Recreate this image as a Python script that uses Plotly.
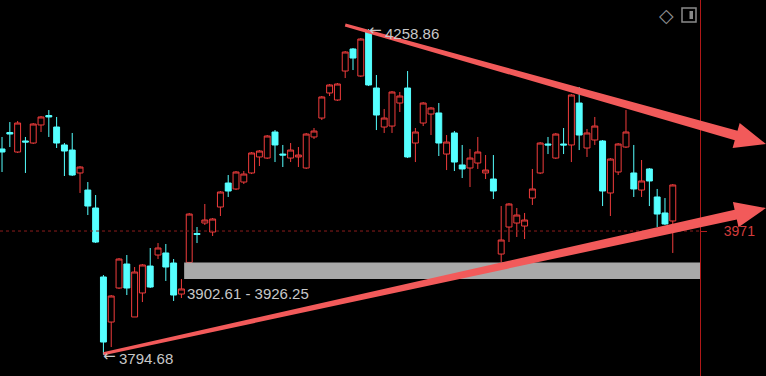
import math
import plotly.graph_objects as go

# ---- data ----
opens = [
    4087.9, 4111.4, 4083.6, 4099.3, 4096.4, 4122.1, 4135.6, 4119.2, 4093.6, 4086.4,
    4053.7, 4029.4, 4003.8, 3905.5, 3841.3, 3889.8, 3924.0, 3848.5, 3882.7, 3921.1,
    3936.8, 3939.7, 3925.4, 3881.2, 3926.25, 3967.5, 3982.4, 3969.6, 4005.2, 4039.4,
    4030.9, 4040.8, 4053.7, 4076.5, 4075.0, 4112.1, 4080.7, 4075.0, 4076.5, 4060.8,
    4105.0, 4132.0, 4167.7, 4157.7, 4199.0, 4230.4, 4191.9, 4254.6, 4174.8, 4119.2,
    4120.6, 4153.4, 4174.8, 4096.4, 4124.9, 4137.7, 4139.2, 4080.7, 4110.7, 4065.1,
    4060.8, 4067.9, 4053.7, 4045.1, 3938.2, 3976.7, 3982.4, 3978.1, 4018.0, 4053.7,
    4095.0, 4075.0, 4095.0, 4093.6, 4153.4, 4089.3, 4100.7, 4099.3, 4025.2, 4055.1,
    4090.7, 4053.7, 4029.4, 4059.4, 4019.5, 3996.7, 3985.3]
closes = [
    4083.6, 4109.2, 4124.9, 4097.8, 4123.5, 4133.5, 4133.5, 4096.4, 4085.0, 4050.8,
    4062.2, 4006.6, 3955.3, 3812.8, 3878.4, 3931.1, 3889.8, 3912.6, 3922.6, 3891.2,
    3946.8, 3919.7, 3879.8, 3888.4, 3995.2, 3966.0, 3986.7, 3988.1, 4026.6, 4028.0,
    4055.1, 4052.2, 4082.2, 4085.0, 4106.4, 4093.6, 4079.3, 4086.4, 4079.3, 4109.2,
    4113.5, 4162.0, 4179.1, 4180.5, 4226.1, 4217.5, 4244.6, 4179.1, 4136.3, 4132.0,
    4169.1, 4163.4, 4076.5, 4112.1, 4153.4, 4146.3, 4096.4, 4097.8, 4069.3, 4059.4,
    4075.0, 4083.6, 4057.9, 4028.0, 3958.2, 4009.5, 3993.8, 3986.7, 4030.9, 4096.4,
    4093.6, 4109.2, 4093.6, 4164.8, 4107.8, 4110.7, 4120.6, 4028.0, 4073.6, 4095.0,
    4112.1, 4030.9, 4042.3, 4042.3, 3995.2, 3981.0, 4036.6]
highs = [
    4105.0, 4126.3, 4127.8, 4105.0, 4124.9, 4134.9, 4143.4, 4133.5, 4096.4, 4110.7,
    4063.6, 4040.8, 4022.3, 3908.3, 3879.8, 3932.5, 3936.8, 3919.7, 3924.0, 3946.8,
    3953.9, 3952.5, 3931.1, 3902.61, 3996.7, 3976.7, 4009.5, 3989.5, 4028.0, 4050.8,
    4056.5, 4056.5, 4083.6, 4086.4, 4107.8, 4114.9, 4093.6, 4096.4, 4090.7, 4110.7,
    4117.8, 4163.4, 4180.5, 4181.9, 4227.5, 4231.8, 4246.0, 4258.86, 4193.3, 4144.9,
    4170.5, 4169.1, 4199.0, 4117.8, 4154.8, 4147.7, 4153.4, 4107.8, 4113.5, 4093.6,
    4087.9, 4105.0, 4079.3, 4079.3, 4006.6, 4010.9, 4003.8, 3996.7, 4059.4, 4097.8,
    4105.0, 4110.7, 4117.8, 4166.2, 4176.2, 4116.4, 4133.5, 4100.7, 4075.0, 4096.4,
    4143.4, 4093.6, 4072.2, 4060.8, 4030.9, 4018.0, 4038.0]
lows = [
    4055.1, 4090.7, 4082.2, 4053.7, 4095.0, 4112.1, 4105.0, 4089.3, 4049.4, 4049.4,
    4025.2, 3993.8, 3953.9, 3794.68, 3805.7, 3888.4, 3879.8, 3848.5, 3869.8, 3889.8,
    3931.1, 3899.8, 3871.3, 3875.5, 3926.25, 3953.9, 3979.6, 3963.9, 3992.4, 4019.5,
    4029.4, 4038.0, 4052.2, 4063.6, 4073.6, 4069.3, 4062.2, 4069.3, 4062.2, 4059.4,
    4102.1, 4129.2, 4163.4, 4156.3, 4189.0, 4200.4, 4190.5, 4177.6, 4114.9, 4110.7,
    4110.7, 4140.6, 4075.0, 4069.3, 4120.6, 4107.8, 4077.9, 4057.9, 4056.5, 4046.5,
    4033.7, 4059.4, 4045.1, 4016.6, 3926.8, 3955.3, 3962.5, 3959.6, 4008.1, 4052.2,
    4080.7, 4073.6, 4080.7, 4069.3, 4086.4, 4076.5, 4093.6, 4006.6, 3992.4, 4050.8,
    4089.3, 4019.5, 4019.5, 4006.6, 3976.7, 3979.6, 3939.7]
idx = list(range(len(opens)))

high_label = "4258.86"
low_label = "3794.68"
gap_low, gap_high = 3902.61, 3926.25
ref_price = 3971

# trend lines (start, tip) in (bar index, price)
trend_upper = [(44.0, 4264.6), (97.95, 4095.0)]
trend_lower = [(13.0, 3796.0), (97.95, 4003.8)]

# ---- geometry ----
X_RANGE = [-0.26, 89.49]
Y_RANGE = [3764.4, 4300.2]
W, H = 700, 376
RED = "#f03c3c"
CYAN = "#55ffff"
ARROW = "#f25a5a"
FONT = "Liberation Sans"
LABEL = "#c8c8c8"


def to_px(xv, yv):
    return ((xv - X_RANGE[0]) / (X_RANGE[1] - X_RANGE[0]) * W,
            (yv - Y_RANGE[0]) / (Y_RANGE[1] - Y_RANGE[0]) * H)


def arrow_path(p0, p1, w0=1.5, w1=5.0, hw=13.0, hl=31.0):
    x0, y0 = to_px(*p0)
    x1, y1 = to_px(*p1)
    dx, dy = x1 - x0, y1 - y0
    L = math.hypot(dx, dy)
    ux, uy = dx / L, dy / L
    nx, ny = -uy, ux
    bx, by = x1 - ux * hl, y1 - uy * hl
    pts = [(x0 + nx * w0, y0 + ny * w0), (bx + nx * w1, by + ny * w1),
           (bx + nx * hw, by + ny * hw), (x1, y1),
           (bx - nx * hw, by - ny * hw), (bx - nx * w1, by - ny * w1),
           (x0 - nx * w0, y0 - ny * w0)]
    return "M " + " L ".join(f"{px / W:.5f},{py / H:.5f}" for px, py in pts) + " Z"


fig = go.Figure(go.Candlestick(
    x=idx, open=opens, high=highs, low=lows, close=closes,
    increasing=dict(line=dict(color=RED, width=1), fillcolor="#000000"),
    decreasing=dict(line=dict(color=CYAN, width=1), fillcolor=CYAN),
    whiskerwidth=0, hoverinfo="skip", showlegend=False,
))

shapes = [
    dict(type="line", xref="paper", x0=0, x1=1, yref="y", y0=ref_price, y1=ref_price,
         line=dict(color="#8c1c1c", width=1, dash="dot")),
    dict(type="rect", xref="x", x0=23.35, x1=X_RANGE[1], yref="y", y0=gap_low, y1=gap_high,
         fillcolor="#a9a9a9", line=dict(width=0)),
    dict(type="path", xref="paper", yref="paper", path=arrow_path(*trend_upper),
         fillcolor=ARROW, line=dict(width=0)),
    dict(type="path", xref="paper", yref="paper", path=arrow_path(*trend_lower),
         fillcolor=ARROW, line=dict(width=0)),
    # top-right icon (panel toggle)
    dict(type="rect", xref="paper", yref="paper", x0=682 / W, x1=696 / W,
         y0=1 - 22 / H, y1=1 - 8 / H, line=dict(color="#8a8a8a", width=1.5)),
    dict(type="rect", xref="paper", yref="paper", x0=689.5 / W, x1=693 / W,
         y0=1 - 19 / H, y1=1 - 11 / H, fillcolor="#8a8a8a", line=dict(width=0)),
]


def marker_label(i, price, text):
    return [
        dict(x=i, y=price, xref="x", yref="y", text="\u2190", showarrow=False,
             xanchor="left", yanchor="middle", xshift=-2, yshift=-1,
             font=dict(family="DejaVu Sans", size=15, color=LABEL)),
        dict(x=i, y=price, xref="x", yref="y", text=text, showarrow=False,
             xanchor="left", yanchor="middle", xshift=14, yshift=-4,
             font=dict(family=FONT, size=15, color=LABEL)),
    ]


annotations = (
    marker_label(47, highs[47], high_label)
    + marker_label(13, lows[13], low_label)
    + [
        dict(x=23.45, y=gap_low, xref="x", yref="y", text=f"{gap_low:.2f} - {gap_high:.2f}",
             showarrow=False, xanchor="left", yanchor="top", yshift=-4,
             font=dict(family=FONT, size=15, color=LABEL)),
        dict(x=666 / W, y=1 - 15 / H, xref="paper", yref="paper", text="\u25c7",
             showarrow=False, xanchor="center", yanchor="middle",
             font=dict(family="DejaVu Sans", size=19, color="#909090")),
    ]
)

fig.update_layout(
    width=766, height=376,
    margin=dict(l=0, r=66, t=0, b=0),
    paper_bgcolor="#000000", plot_bgcolor="#000000",
    boxgap=0, boxgroupgap=0.24,
    shapes=shapes, annotations=annotations,
    showlegend=False,
    xaxis=dict(range=X_RANGE, visible=False, rangeslider=dict(visible=False),
               showgrid=False, zeroline=False),
    yaxis=dict(range=Y_RANGE, side="right", showgrid=False, zeroline=False,
               tickvals=[ref_price], ticktext=[str(ref_price)],
               ticks="outside", ticklen=6, tickcolor="#b02020",
               ticklabelstandoff=14,
               tickfont=dict(family=FONT, size=14, color="#d23c3c"),
               showline=True, linecolor="#b01818", linewidth=1),
)

fig.write_html("out.html")
